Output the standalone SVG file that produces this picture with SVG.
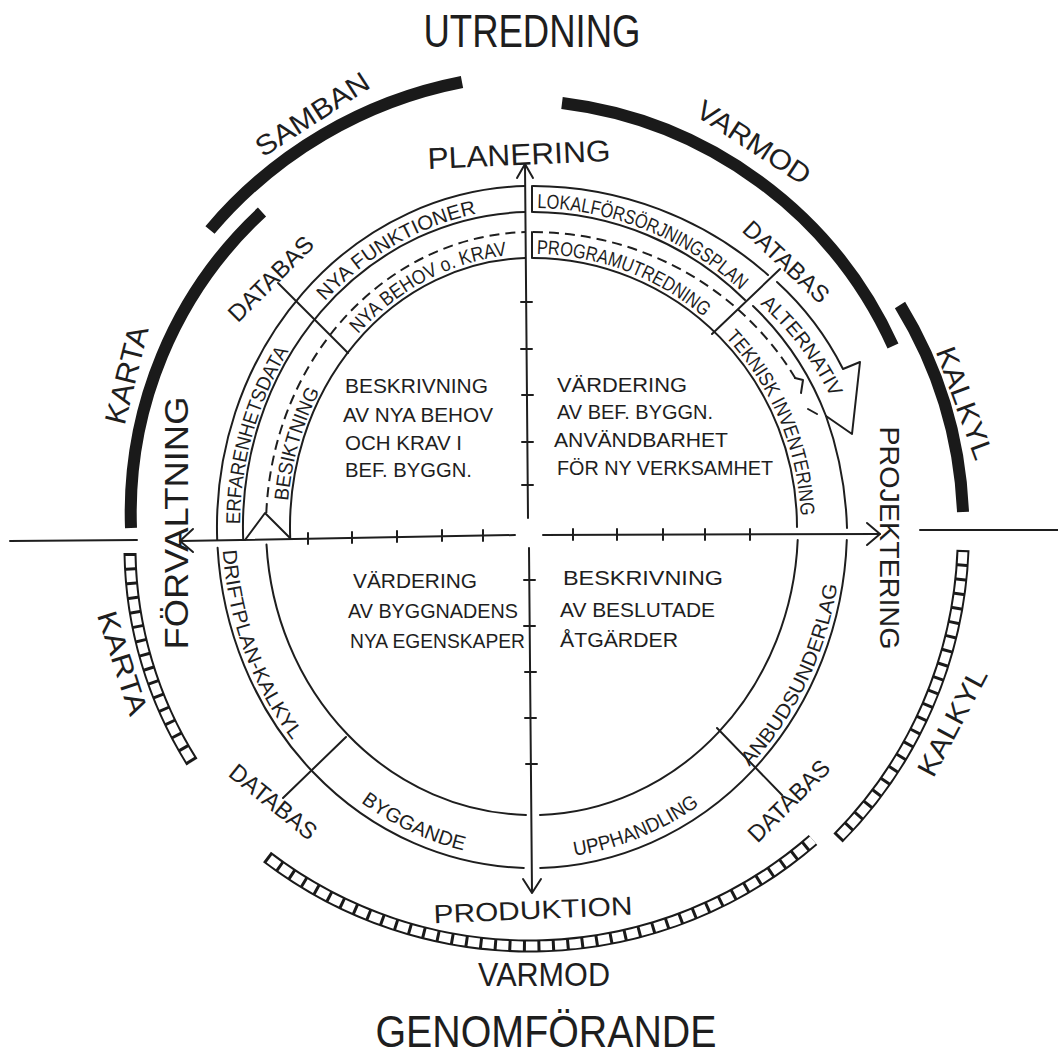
<svg xmlns="http://www.w3.org/2000/svg" width="1058" height="1060" viewBox="0 0 1058 1060">
<style>
.ln{fill:none;stroke:#1e1e1e;stroke-width:2;stroke-linecap:round;stroke-linejoin:round}
.ds{fill:none;stroke:#1e1e1e;stroke-width:2;stroke-dasharray:10 6}
.bar{fill:none;stroke:#1a1a1a;stroke-width:12}
.lad{fill:none;stroke:#1a1a1a;stroke-width:13}
.ladw{fill:none;stroke:#fff;stroke-width:9;stroke-dasharray:11.5 3;stroke-dashoffset:11.5}
text{font-family:"Liberation Sans",Arial,sans-serif;fill:#1e1e1e}
.lane{font-size:20px}
.q{font-size:21px}
.big{font-size:28px}
</style>
<defs>
<path id="pNF" d="M324.8,301.4 A293,319 0 0 1 516.7,208.4"/>
<path id="pNB" d="M358.1,334.0 A246,273 0 0 1 544.9,254.4"/>
<path id="pLO" d="M537.4,208.0 A311,319 0 0 1 770.2,321.9"/>
<path id="pPR" d="M536.7,254.0 A269,273 0 0 1 731.9,344.3"/>
<path id="pAL" d="M760,304 A300,300 0 0 1 845,432"/>
<path id="pTE" d="M725.5,337.4 A269,273 0 0 1 799.5,555.5"/>
<path id="pER" d="M240.0,524.2 A292,318 0 0 1 318.4,310.1"/>
<path id="pBE" d="M288.1,500.9 A245,272 0 0 1 341.6,355.8"/>
<path id="pDR" d="M222.8,550.4 A310,336 0 0 0 328.6,780.6"/>
<path id="pBY" d="M360.9,802.2 A306,332 0 0 0 505.3,857.7"/>
<path id="pUP" d="M574.6,855.8 A306,332 0 0 0 732.8,777.6"/>
<path id="pAN" d="M749.3,766.7 A310,336 0 0 0 842,527"/>
</defs>
<rect width="1058" height="1060" fill="#fff"/>

<g id="bars">
<path class="bar" d="M210,230 A440,440 0 0 1 462,82"/>
<path class="bar" d="M131,528 A410,410 0 0 1 262,212"/>
<path class="bar" d="M562,103 A420,420 0 0 1 893,346"/>
<path class="bar" d="M900,305 A430,430 0 0 1 963,512"/>
</g>

<g id="ladders">
<path class="lad" d="M267,857 A432,432 0 0 0 813,840"/>
<path class="ladw" d="M267,857 A432,432 0 0 0 813,840"/>
<path class="lad" d="M130,553 A405,405 0 0 0 192,762"/>
<path class="ladw" d="M130,553 A405,405 0 0 0 192,762"/>
<path class="lad" d="M838,838 A433,433 0 0 0 963,550"/>
<path class="ladw" d="M838,838 A433,433 0 0 0 963,550"/>
</g>

<g id="rings">
<path class="ln" d="M217.2,540 A315,341 0 0 1 524.9,186.1"/>
<path class="ln" d="M533,186 A350,341 0 0 1 768,275"/>
<path class="ln" d="M777,282 A300,300 0 0 1 843,369 L860,362 L852,434 L826,416 A300,300 0 0 0 753,306"/>
<path class="ln" d="M826,416 A315,341 0 0 1 847,528"/>
<path class="ln" d="M846.8,540 A315,341 0 0 1 540.2,867.9"/>
<path class="ln" d="M523.8,867.9 A315,341 0 0 1 217.6,547.8"/>
<path class="ln" d="M243.2,540 A289,315 0 0 1 525,212.1"/>
<path class="ln" d="M533,212 A307,315 0 0 1 745,300"/>
<path class="ds" d="M266.3,513 A266,295 0 0 1 525,232.1"/>
<path class="ds" d="M533,232 A305,295 0 0 1 798.2,383"/>
<path class="ln" d="M795,378 L803,380 L801,393 M808,409 L817,414"/>
<path class="ln" d="M290.2,538 A242,269 0 0 1 525,258.1"/>
<path class="ln" d="M533,258 A265,269 0 0 1 797,527"/>
<path class="ln" d="M526,814.9 A266,288 0 0 1 266.5,544.6"/>
<path class="ln" d="M797.7,540 A266,288 0 0 1 540,814.9"/>
<path class="ln" d="M532,186 V212 M532,232 V258"/>
<path class="ln" d="M245,540 L265,513 L290,538"/>
</g>

<g id="dividers">
<path class="ln" d="M278,283 L348,353"/>
<path class="ln" d="M780,269 L712,334"/>
<path class="ln" d="M717,728 L782,795"/>
<path class="ln" d="M346,737 L283,798"/>
</g>

<g id="axes">
<path class="ln" d="M10,541 L137,540"/>
<path class="ln" d="M180,541 L515,535"/>
<path class="ln" d="M193,529 L180,541 L193,552"/>
<path class="ln" d="M543,535 L880,534"/>
<path class="ln" d="M867,523 L880,534 L867,545"/>
<path class="ln" d="M920,530 L1058,530"/>
<path class="ln" d="M525,165 L528,518"/>
<path class="ln" d="M517,178 L525,164 L533,178"/>
<path class="ln" d="M529,548 L532,892"/>
<path class="ln" d="M523,879 L532,893 L541,879"/>
<path class="ln" d="M308,533 v11 M352,532 v11 M397,531 v11 M442,530 v11 M483,530 v11 M573,529 v11 M617,529 v11 M663,529 v11 M705,529 v11 M750,529 v11 M521,302 h11 M521,349 h11 M522,395 h11 M522,442 h11 M522,485 h11 M524,580 h11 M524,626 h11 M525,672 h11 M525,718 h11 M526,764 h11"/>
</g>

<g id="lane-labels">
<text class="lane" font-size="21"><textPath href="#pNF" textLength="178" lengthAdjust="spacingAndGlyphs">NYA FUNKTIONER</textPath></text>
<text class="lane" font-size="21"><textPath href="#pNB" textLength="172" lengthAdjust="spacingAndGlyphs">NYA BEHOV o. KRAV</textPath></text>
<text class="lane"><textPath href="#pLO" textLength="224" lengthAdjust="spacingAndGlyphs">LOKALFÖRSÖRJNINGSPLAN</textPath></text>
<text class="lane"><textPath href="#pPR" textLength="182" lengthAdjust="spacingAndGlyphs">PROGRAMUTREDNING</textPath></text>
<text class="lane"><textPath href="#pAL" textLength="118" lengthAdjust="spacingAndGlyphs">ALTERNATIV</textPath></text>
<text class="lane"><textPath href="#pTE" textLength="198" lengthAdjust="spacingAndGlyphs">TEKNISK  INVENTERING</textPath></text>
<text class="lane" font-size="22"><textPath href="#pER" textLength="182" lengthAdjust="spacingAndGlyphs">ERFARENHETSDATA</textPath></text>
<text class="lane" font-size="22"><textPath href="#pBE" textLength="115" lengthAdjust="spacingAndGlyphs">BESIKTNING</textPath></text>
<text class="lane" font-size="19"><textPath href="#pDR" textLength="205" lengthAdjust="spacingAndGlyphs">DRIFTPLAN-KALKYL</textPath></text>
<text class="lane" font-size="19"><textPath href="#pBY" textLength="114" lengthAdjust="spacingAndGlyphs">BYGGANDE</textPath></text>
<text class="lane" font-size="19"><textPath href="#pUP" textLength="136" lengthAdjust="spacingAndGlyphs">UPPHANDLING</textPath></text>
<text class="lane" font-size="19"><textPath href="#pAN" textLength="205" lengthAdjust="spacingAndGlyphs">ANBUDSUNDERLAG</textPath></text>
</g>

<g id="quadrants">
<text class="q" x="345" y="393" textLength="143" lengthAdjust="spacingAndGlyphs">BESKRIVNING</text>
<text class="q" x="343" y="422" textLength="150" lengthAdjust="spacingAndGlyphs">AV NYA BEHOV</text>
<text class="q" x="345" y="450" textLength="117" lengthAdjust="spacingAndGlyphs">OCH KRAV I</text>
<text class="q" x="345" y="477" textLength="127" lengthAdjust="spacingAndGlyphs">BEF. BYGGN.</text>
<text class="q" x="557" y="392" textLength="130" lengthAdjust="spacingAndGlyphs">VÄRDERING</text>
<text class="q" x="557" y="419" textLength="156" lengthAdjust="spacingAndGlyphs">AV BEF. BYGGN.</text>
<text class="q" x="554" y="447" textLength="174" lengthAdjust="spacingAndGlyphs">ANVÄNDBARHET</text>
<text class="q" x="557" y="475" textLength="216" lengthAdjust="spacingAndGlyphs">FÖR NY VERKSAMHET</text>
<text class="q" x="353" y="588" textLength="124" lengthAdjust="spacingAndGlyphs">VÄRDERING</text>
<text class="q" x="348" y="618" textLength="170" lengthAdjust="spacingAndGlyphs">AV BYGGNADENS</text>
<text class="q" x="350" y="648" textLength="175" lengthAdjust="spacingAndGlyphs">NYA EGENSKAPER</text>
<text class="q" x="563" y="585" textLength="160" lengthAdjust="spacingAndGlyphs">BESKRIVNING</text>
<text class="q" x="560" y="617" textLength="155" lengthAdjust="spacingAndGlyphs">AV BESLUTADE</text>
<text class="q" x="560" y="647" textLength="118" lengthAdjust="spacingAndGlyphs">ÅTGÄRDER</text>
</g>

<g id="outer-labels" text-anchor="middle">
<text x="532" y="47" font-size="46" textLength="217" lengthAdjust="spacingAndGlyphs">UTREDNING</text>
<text transform="translate(519,155) rotate(-2.5)" y="10" font-size="30" textLength="183" lengthAdjust="spacingAndGlyphs">PLANERING</text>
<text transform="translate(533,910) rotate(-2.5)" y="9" font-size="26" textLength="199" lengthAdjust="spacingAndGlyphs">PRODUKTION</text>
<text x="544" y="986" font-size="33" textLength="132" lengthAdjust="spacingAndGlyphs">VARMOD</text>
<text x="546" y="1047" font-size="44" textLength="341" lengthAdjust="spacingAndGlyphs">GENOMFÖRANDE</text>
<text transform="translate(312,114) rotate(-33)" y="10" class="big" textLength="130" lengthAdjust="spacingAndGlyphs">SAMBAN</text>
<text transform="translate(754,142) rotate(33)" y="10" class="big" textLength="130" lengthAdjust="spacingAndGlyphs">VARMOD</text>
<text transform="translate(271,279) rotate(-45)" y="8" font-size="24" textLength="110" lengthAdjust="spacingAndGlyphs">DATABAS</text>
<text transform="translate(786,262) rotate(43)" y="8" font-size="24" textLength="108" lengthAdjust="spacingAndGlyphs">DATABAS</text>
<text transform="translate(273,802) rotate(39)" y="8" font-size="24" textLength="105" lengthAdjust="spacingAndGlyphs">DATABAS</text>
<text transform="translate(789,801) rotate(-45)" y="8" font-size="24" textLength="105" lengthAdjust="spacingAndGlyphs">DATABAS</text>
<text transform="translate(127,375) rotate(-76)" y="10" font-size="30" textLength="100" lengthAdjust="spacingAndGlyphs">KARTA</text>
<text transform="translate(965,403) rotate(70)" y="10" class="big" textLength="118" lengthAdjust="spacingAndGlyphs">KALKYL</text>
<text transform="translate(952,722) rotate(-62)" y="10" class="big" textLength="118" lengthAdjust="spacingAndGlyphs">KALKYL</text>
<text transform="translate(123,663) rotate(72)" y="10" class="big" textLength="108" lengthAdjust="spacingAndGlyphs">KARTA</text>
<text transform="translate(176,523) rotate(-90)" y="12" font-size="34" textLength="253" lengthAdjust="spacingAndGlyphs">FÖRVALTNING</text>
<text transform="translate(890,538) rotate(90)" y="10" font-size="28" textLength="223" lengthAdjust="spacingAndGlyphs">PROJEKTERING</text>
</g>
</svg>
